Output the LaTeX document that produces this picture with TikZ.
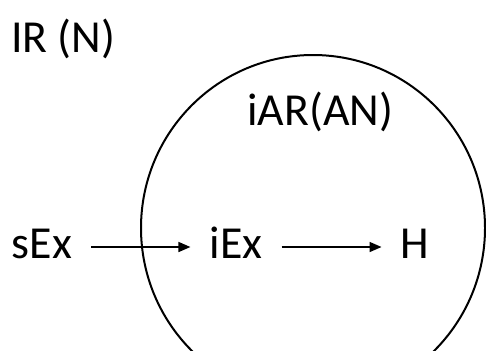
\documentclass[tikz,border=0pt]{standalone}
\usepackage{fontspec}
\setmainfont{Carlito}
\usetikzlibrary{arrows.meta}

\begin{document}
\begin{tikzpicture}[x=1bp, y=-1bp,
        lbl/.style={inner sep=0pt, anchor=base west, font=\fontsize{46}{54}\selectfont},
        term/.style={inner xsep=19bp, inner ysep=0pt, text height=22bp, text depth=0pt,
            anchor=base, font=\fontsize{46}{54}\selectfont},
        conn/.style={line width=1.6bp, arrows={-Triangle[length=12bp, width=10bp]}}]
        \useasboundingbox (0, 0) rectangle (486, 350);
        % outer label and the inner region
        \node [lbl] (ir) at (11, 52) {IR (N)};
        \draw [line width=2bp] (313, 228) ellipse [x radius=172, y radius=173];
        \node [lbl] (iar) at (247, 125) {iAR(AN)};
        % chain
        \node [term] (sex) at (42, 258) {sEx};
        \node [term] (iex) at (236, 258) {iEx};
        \node [term] (h) at (415, 258) {H};
        \draw [conn] (sex) -- (iex);
        \draw [conn] (iex) -- (h);
    \end{tikzpicture}
\end{document}
